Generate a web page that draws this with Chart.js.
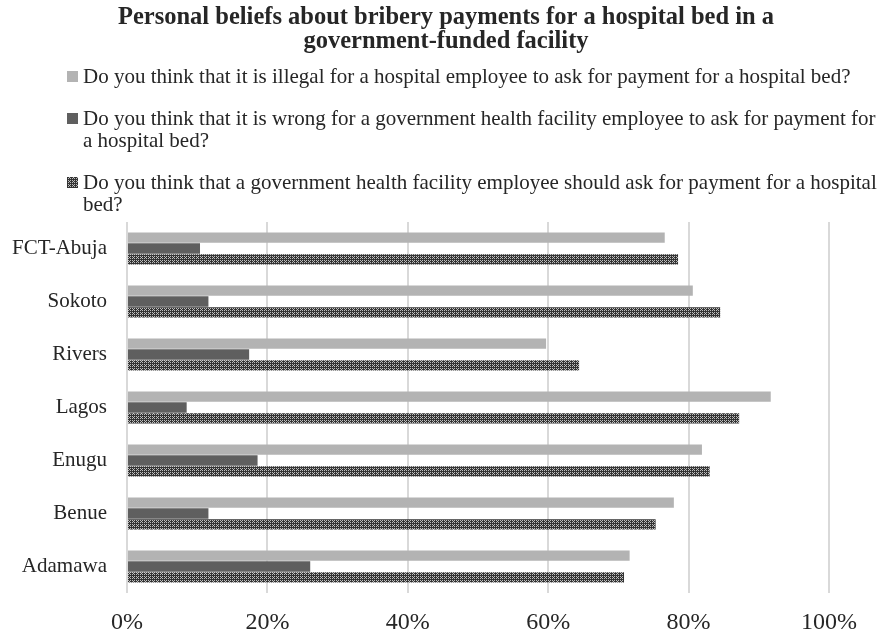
<!DOCTYPE html>
<html>
<head>
<meta charset="utf-8">
<script src="https://cdn.jsdelivr.net/npm/chart.js@4.4.1/dist/chart.umd.min.js"></script>
<style>
    html, body { margin: 0; padding: 0; background: #fff; }
    #wrap { width: 892px; height: 632px; }
</style>
</head>
<body>
<div id="wrap"><canvas id="beliefChart" width="892" height="632"></canvas></div>
<script>
// States, top to bottom
const states = ['FCT-Abuja', 'Sokoto', 'Rivers', 'Lagos', 'Enugu', 'Benue', 'Adamawa'];

// Share of respondents (%) per question
const illegalPct = [76.6, 80.6, 59.7, 91.7, 81.9, 77.9, 71.6];
const wrongPct   = [10.4, 11.6, 17.4, 8.5, 18.6, 11.6, 26.1];
const shouldPct  = [78.5, 84.5, 64.4, 87.2, 83.0, 75.3, 70.8];

const xTicks = [0, 20, 40, 60, 80, 100];

const titleLines = ['Personal beliefs about bribery payments for a hospital bed in a',
                    'government-funded facility'];

// Legend text, already split the way it wraps
const legendLines = [
    ['Do you think that it is illegal for a hospital employee to ask for payment for a hospital bed?'],
    ['Do you think that it is wrong for a government health facility employee to ask for payment for',
     'a hospital bed?'],
    ['Do you think that a government health facility employee should ask for payment for a hospital',
     'bed?']
];

const serif = "'Liberation Serif', 'Times New Roman', serif";

// Dotted dark fill for the third series
function makeDotPattern() {
    const c = document.createElement('canvas');
    c.width = 4; c.height = 4;
    const g = c.getContext('2d');
    g.fillStyle = '#333333';
    g.fillRect(0, 0, 4, 4);
    g.fillStyle = '#bdbdbd';
    g.fillRect(0, 0, 1, 1);
    g.fillRect(2, 0, 1, 1);
    g.fillRect(0, 2, 1, 1);
    g.fillRect(2, 2, 1, 1);
    g.fillRect(1, 1, 1, 1);
    return g.createPattern(c, 'repeat');
}

const ctx = document.getElementById('beliefChart').getContext('2d');
const dotPattern = makeDotPattern();
const fills = ['#b3b3b3', '#5f5f5f', dotPattern];

// Title centred on the whole canvas, then the wrapped legend under it
const headerAndLegend = {
    id: 'headerAndLegend',
    afterDraw(chart) {
        const c = chart.ctx;
        c.save();
        c.textBaseline = 'middle';
        c.fillStyle = '#262626';
        c.textAlign = 'center';
        c.font = 'bold 24.5px ' + serif;
        titleLines.forEach(function(line, i) {
            c.fillText(line, chart.width / 2, 18 + i * 24);
        });

        const tops = [76, 118, 182];
        c.font = '21px ' + serif;
        c.textAlign = 'left';
        legendLines.forEach(function(lines, i) {
            c.fillStyle = fills[i];
            c.fillRect(67, tops[i] - 5, 11, 11);
            c.fillStyle = '#262626';
            lines.forEach(function(line, j) {
                c.fillText(line, 83, tops[i] + 1 + j * 22);
            });
        });
        c.restore();
    }
};

new Chart(ctx, {
    type: 'bar',
    data: {
        labels: states,
        datasets: [{
            label: legendLines[0].join(' '),
            data: illegalPct,
            backgroundColor: fills[0]
        }, {
            label: legendLines[1].join(' '),
            data: wrongPct,
            backgroundColor: fills[1]
        }, {
            label: legendLines[2].join(' '),
            data: shouldPct,
            backgroundColor: fills[2]
        }]
    },
    options: {
        indexAxis: 'y',
        responsive: false,
        animation: false,
        categoryPercentage: 0.62,
        barPercentage: 0.94,
        layout: { padding: { left: 0, right: 63, top: 222, bottom: 0 } },
        plugins: {
            legend: { display: false },
            tooltip: { enabled: false },
            title: { display: false }
        },
        scales: {
            x: {
                min: 0,
                max: 100,
                afterBuildTicks: function(scale) {
                    scale.ticks = xTicks.map(v => ({ value: v }));
                },
                afterFit: function(scale) { scale.height = 39; },
                border: { display: false },
                grid: { color: '#d9d9d9', lineWidth: 2, drawTicks: false },
                ticks: {
                    padding: 15,
                    color: '#262626',
                    font: { family: serif, size: 24 },
                    callback: v => v + '%'
                }
            },
            y: {
                afterFit: function(scale) { scale.width = 127; },
                border: { display: false },
                grid: { display: false, drawTicks: false },
                ticks: {
                    padding: 20,
                    color: '#262626',
                    font: { family: serif, size: 21 }
                }
            }
        }
    },
    plugins: [headerAndLegend]
});
</script>
</body>
</html>
